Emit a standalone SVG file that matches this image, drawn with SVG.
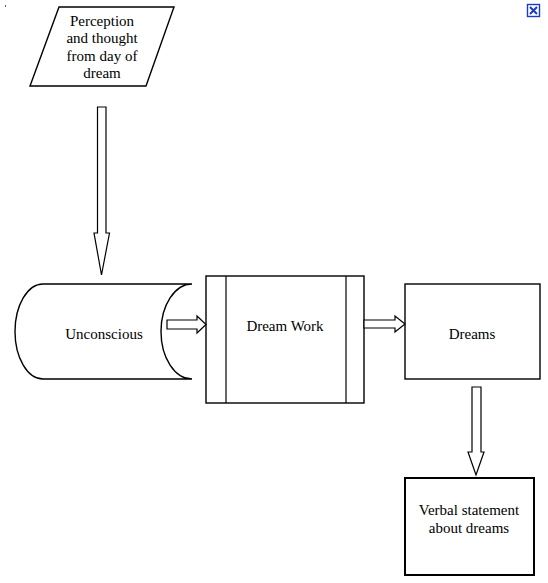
<svg xmlns="http://www.w3.org/2000/svg" width="548" height="583" viewBox="0 0 548 583">
<style>
.s{fill:#fff;stroke:#000;stroke-width:1.4}
.a{fill:#fff;stroke:#000;stroke-width:1.2;stroke-linejoin:miter}
text{font-family:"Liberation Serif","Times New Roman",serif;font-size:15px;fill:#000;text-anchor:middle}
</style>
<rect width="548" height="583" fill="#fff"/>
<rect x="5" y="5" width="1" height="2" fill="#555"/>
<g id="close-icon">
<rect x="527.5" y="4.5" width="12" height="12" fill="#fff" stroke="#1a3acc" stroke-width="1.4"/>
<path d="M530,7 L537,14 M537,7 L530,14" stroke="#1a3acc" stroke-width="2"/>
</g>
<g id="perception">
<polygon class="s" points="59,7 174,7 146,86 30,86"/>
<text x="102" y="25.5">Perception</text>
<text x="102" y="43">and thought</text>
<text x="102" y="60.5">from day of</text>
<text x="102" y="78">dream</text>
</g>
<g id="unconscious">
<path class="s" d="M43,284 L192,284 A31,47.5 0 0 0 192,379 L43,379 A28,47.5 0 0 1 43,284 Z"/>
<text x="104" y="339">Unconscious</text>
</g>
<g id="dreamwork">
<rect class="s" x="206" y="276" width="158" height="127"/>
<line x1="226" y1="276" x2="226" y2="403" stroke="#000" stroke-width="1.2"/>
<line x1="346" y1="276" x2="346" y2="403" stroke="#000" stroke-width="1.2"/>
<text x="285" y="331">Dream Work</text>
</g>
<g id="dreams">
<rect class="s" x="405" y="284" width="135" height="95"/>
<text x="472" y="339">Dreams</text>
</g>
<g id="verbal">
<rect x="405" y="478" width="129" height="97" fill="#fff" stroke="#000" stroke-width="2"/>
<text x="469" y="515">Verbal statement</text>
<text x="469" y="533">about dreams</text>
</g>
<g id="connectors">
<path class="a" d="M97.5,107 L106,107 L106,233 L109.5,233 L101.5,275 L94,233 L97.5,233 Z"/>
<path class="a" d="M167,320 L197,320 L197,316 L206,324.5 L197,333 L197,329 L167,329 Z"/>
<path class="a" d="M364,320 L395,320 L395,316 L405,324 L395,332 L395,328 L364,328 Z"/>
<path class="a" d="M472,387 L481,387 L481,452 L484,452 L476,475 L468,452 L472,452 Z"/>
</g>
</svg>
